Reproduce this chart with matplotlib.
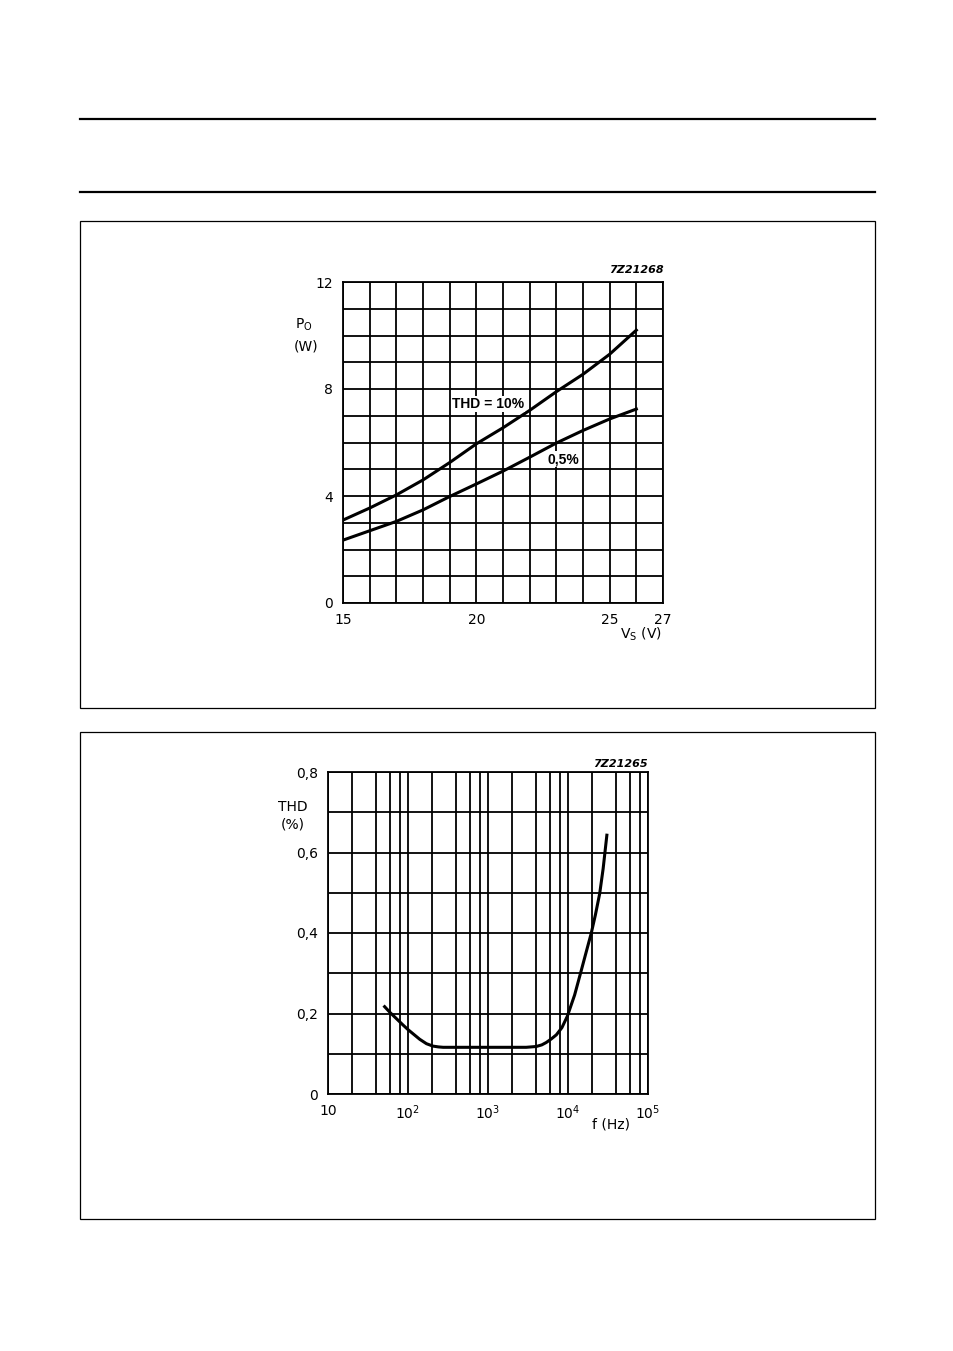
import matplotlib
matplotlib.use("Agg")
import matplotlib.pyplot as plt
from matplotlib.patches import Rectangle
from matplotlib.lines import Line2D
from matplotlib.ticker import NullFormatter, FixedLocator

plt.rcParams['font.family'] = ['DejaVu Sans']
plt.rcParams['mathtext.default'] = 'regular'

# ---- data: top chart (Po vs Vs) ----
vs_10 = [15.0, 16, 17, 18, 19, 20, 21, 22, 23, 24, 25, 26]
po_10 = [3.1, 3.55, 4.04, 4.6, 5.25, 5.95, 6.55, 7.2, 7.9, 8.55, 9.3, 10.2]
vs_05 = [15.0, 16, 17, 18, 19, 20, 21, 22, 23, 24, 25, 26]
po_05 = [2.35, 2.7, 3.05, 3.48, 3.98, 4.45, 4.93, 5.45, 5.98, 6.45, 6.88, 7.25]
top_xticks = [15, 20, 25, 27]
top_yticks = [0, 4, 8, 12]

# ---- data: bottom chart (THD vs f) ----
freq = [51, 60, 71, 85, 100, 120, 140, 170, 205, 240, 275, 400, 700, 1000,
        2000, 3000, 4000, 4700, 5350, 6200, 7150, 8400, 9800, 12100, 14700,
        17000, 19500, 22000, 24900, 27500, 30600]
thd = [0.217, 0.202, 0.188, 0.173, 0.16, 0.147, 0.136, 0.125, 0.119, 0.117,
       0.116, 0.116, 0.116, 0.116, 0.116, 0.116, 0.118, 0.122, 0.128, 0.137,
       0.147, 0.165, 0.193, 0.246, 0.308, 0.355, 0.399, 0.445, 0.498, 0.56,
       0.643]
bot_xticks = [10, 100, 1000, 10000, 100000]
bot_xlabels = ['10', '$10^2$', '$10^3$', '$10^4$', '$10^5$']
bot_yticks = [0, 0.2, 0.4, 0.6, 0.8]
bot_ylabels = ['0', '0,2', '0,4', '0,6', '0,8']

W, H = 954, 1351
fig = plt.figure(figsize=(W / 100, H / 100), dpi=100)


def ax_px(l, t, r, b):
    return fig.add_axes([l / W, 1 - b / H, (r - l) / W, (b - t) / H])


def ftxt(x, y, s, **kw):
    fig.text(x / W, 1 - y / H, s, **kw)


# page decorations
for yy in (119, 192):
    fig.add_artist(Line2D([80 / W, 875 / W], [1 - yy / H, 1 - yy / H],
                          color='black', lw=1.6))
for t, b in ((221, 708), (732, 1219)):
    fig.add_artist(Rectangle((80 / W, 1 - b / H), 795 / W, (b - t) / H,
                             fill=False, ec='black', lw=0.9))

grid_kw = dict(color='black', lw=1.3)
fs = 10
ann = dict(family=['Liberation Sans', 'DejaVu Sans'], fontweight='bold')
code = dict(fontsize=8, style='italic', fontweight='bold')

# ---- top chart ----
ax1 = ax_px(343, 282, 663, 603)
ax1.set_xlim(15, 27)
ax1.set_ylim(0, 12)
ax1.set_xticks(top_xticks)
ax1.set_yticks(top_yticks)
ax1.xaxis.set_minor_locator(FixedLocator(list(range(15, 28))))
ax1.yaxis.set_minor_locator(FixedLocator(list(range(0, 13))))
ax1.grid(True, which='both', **grid_kw)
ax1.tick_params(which='both', length=0, labelsize=fs, pad=7)
for s in ax1.spines.values():
    s.set_linewidth(1.3)
ax1.plot(vs_10, po_10, color='black', lw=2.2)
ax1.plot(vs_05, po_05, color='black', lw=2.2)
ax1.set_axisbelow(True)

ftxt(488, 404, 'THD = 10%', ha='center', va='center', fontsize=fs,
     bbox=dict(fc='white', ec='none', pad=1), **ann)
ftxt(563, 459, '0,5%', ha='center', va='center', fontsize=fs,
     bbox=dict(fc='white', ec='none', pad=1), **ann)
ftxt(636, 270, '7Z21268', ha='center', va='center', **code)
ftxt(304, 325, '$P_O$', ha='center', va='center', fontsize=fs)
ftxt(306, 347, '(W)', ha='center', va='center', fontsize=fs)
ftxt(641, 634, '$V_S$ (V)', ha='center', va='center', fontsize=fs)

# ---- bottom chart ----
ax2 = ax_px(328, 772, 648, 1094)
ax2.set_xscale('log')
ax2.set_xlim(10, 1e5)
ax2.set_ylim(0, 0.8)
ax2.set_xticks(bot_xticks)
ax2.set_xticklabels(bot_xlabels)
ax2.set_yticks(bot_yticks)
ax2.set_yticklabels(bot_ylabels)
minors = [m * 10 ** d for d in (1, 2, 3, 4) for m in (2, 4, 6, 8)]
ax2.xaxis.set_minor_locator(FixedLocator(minors))
ax2.xaxis.set_minor_formatter(NullFormatter())
ax2.yaxis.set_minor_locator(FixedLocator([0.1, 0.3, 0.5, 0.7]))
ax2.grid(True, which='both', **grid_kw)
ax2.tick_params(which='both', length=0, labelsize=fs, pad=7)
for s in ax2.spines.values():
    s.set_linewidth(1.3)
ax2.plot(freq, thd, color='black', lw=2.2)

ftxt(293, 807, 'THD', ha='center', va='center', fontsize=fs)
ftxt(293, 825, '(%)', ha='center', va='center', fontsize=fs)
ftxt(611, 1124, 'f (Hz)', ha='center', va='center', fontsize=fs)
ftxt(620, 764, '7Z21265', ha='center', va='center', **code)

fig.savefig('out.png', dpi=100)
